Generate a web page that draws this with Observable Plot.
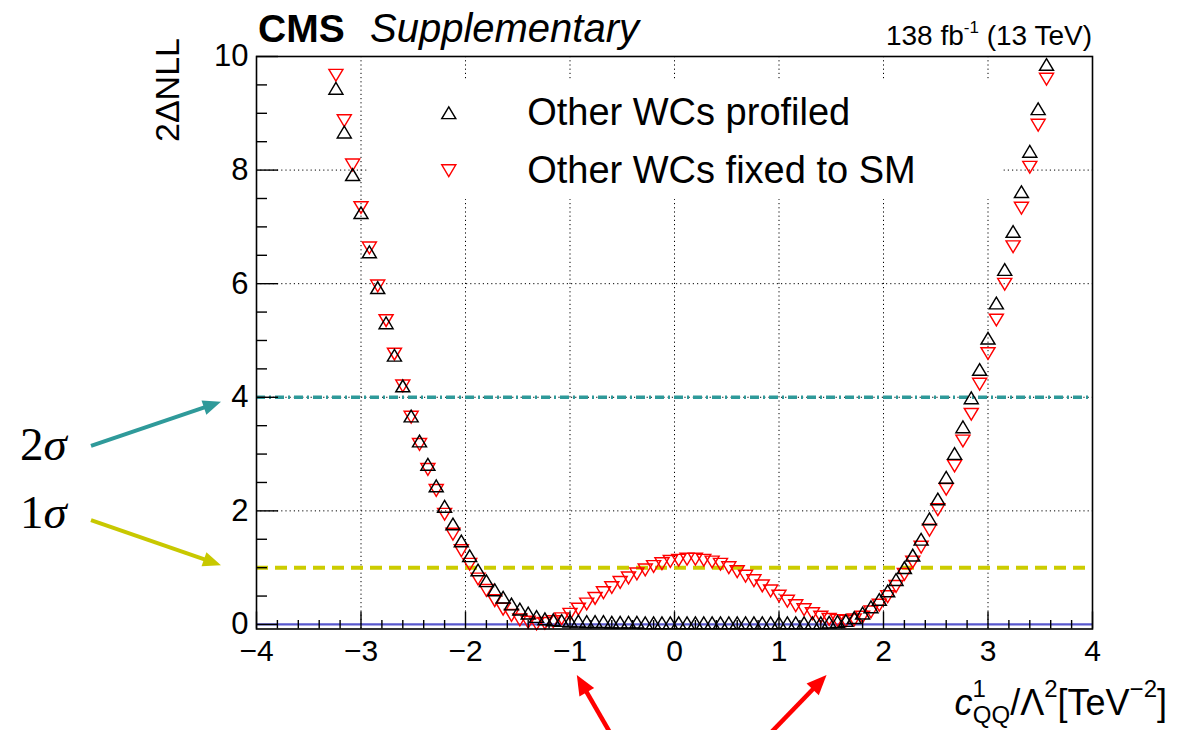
<!DOCTYPE html>
<html><head><meta charset="utf-8">
<script src="https://cdn.jsdelivr.net/npm/d3@7"></script>
<script src="https://cdn.jsdelivr.net/npm/@observablehq/plot@0.6"></script>
<style>
html,body{margin:0;padding:0;background:#fff;overflow:hidden;}
svg{display:block}
</style>
</head><body><div id="chart"></div>
<script>
// ---- data ----
const scanX = [-3.24,-3.16,-3.08,-3.00,-2.92,-2.84,-2.76,-2.68,-2.60,-2.52,-2.44,-2.36,-2.28,-2.20,-2.12,-2.04,-1.96,-1.88,-1.80,-1.72,-1.64,-1.56,-1.48,-1.40,-1.32,-1.24,-1.16,-1.08,-1.00,-0.92,-0.84,-0.76,-0.68,-0.60,-0.52,-0.44,-0.36,-0.28,-0.20,-0.12,-0.04,
  0.04,0.12,0.20,0.28,0.36,0.44,0.52,0.60,0.68,0.76,0.84,0.92,1.00,1.08,1.16,1.24,1.32,1.40,1.48,1.56,1.64,1.72,1.80,1.88,1.96,2.04,2.12,2.20,2.28,2.36,2.44,2.52,2.60,2.68,2.76,2.84,2.92,3.00,3.08,3.16,3.24,3.32,3.40,3.48,3.56];
const profiled = [9.44,8.67,7.92,7.25,6.56,5.93,5.31,4.74,4.20,3.67,3.23,2.82,2.44,2.08,1.77,1.47,1.21,0.96,0.77,0.61,0.48,0.36,0.27,0.20,0.14,0.10,0.08,0.07,0.06,0.06,0.05,0.05,0.05,0.04,0.04,0.04,0.04,0.03,0.03,0.03,0.03,
  0.03,0.03,0.03,0.03,0.03,0.03,0.03,0.03,0.03,0.03,0.03,0.03,0.03,0.03,0.03,0.03,0.03,0.03,0.04,0.05,0.07,0.12,0.20,0.31,0.44,0.59,0.79,1.00,1.22,1.50,1.86,2.21,2.59,3.01,3.48,3.99,4.49,5.04,5.66,6.25,6.92,7.62,8.33,9.08,9.86];
const fixedSM = [9.67,8.87,8.09,7.34,6.63,5.96,5.35,4.76,4.20,3.65,3.17,2.73,2.36,1.94,1.59,1.30,1.06,0.80,0.60,0.42,0.27,0.16,0.08,0.04,0.01,0.02,0.05,0.10,0.18,0.27,0.36,0.46,0.56,0.65,0.74,0.82,0.89,0.96,1.02,1.07,1.11,
  1.13,1.15,1.15,1.13,1.10,1.06,1.00,0.93,0.85,0.77,0.68,0.59,0.50,0.41,0.33,0.26,0.19,0.13,0.09,0.07,0.06,0.08,0.13,0.22,0.34,0.49,0.67,0.88,1.10,1.36,1.66,2.02,2.38,2.79,3.23,3.70,4.23,4.77,5.36,5.99,6.65,7.33,8.05,8.79,9.60];
const seriesNames = ["Other WCs profiled", "Other WCs fixed to SM"];
const xTicks = [-4,-3,-2,-1,0,1,2,3,4];
const yTicks = [0,2,4,6,8,10];
const xGrid = [-3,-2,-1,0,1,2,3];
const yGrid = [2,4,6,8];
const sigmaLevels = [4, 1];          // 2σ, 1σ thresholds of 2ΔNLL
const sigmaLabels = ["2", "1"];
const markedX = [-0.93, 1.46];        // red arrows under the x axis

const xMinor = d3.range(-4, 4.0001, 0.2).map(v => +v.toFixed(2)).filter(v => !xTicks.includes(v));
const yMinor = d3.range(0, 10.0001, 0.5).filter(v => !yTicks.includes(v));

const profRows = scanX.map((x, i) => ({x, y: profiled[i]}));
const fixRows = scanX.map((x, i) => ({x, y: fixedSM[i]}));

// ROOT-like open triangles (bounding-box centred)
const triUp = {draw(ctx, size){const r=Math.sqrt(size/Math.PI), w=1.25*r, h=1.05*r; ctx.moveTo(-w,h); ctx.lineTo(w,h); ctx.lineTo(0,-h); ctx.closePath();}};
const triDown = {draw(ctx, size){const r=Math.sqrt(size/Math.PI), w=1.25*r, h=1.05*r; ctx.moveTo(-w,-h); ctx.lineTo(w,-h); ctx.lineTo(0,h); ctx.closePath();}};

const W = 1177, H = 730, mL = 256, mR = 85, mT = 56, mB = 101.5;
const frameW = W - mL - mR, frameH = H - mT - mB;
const FONT = "'Liberation Sans', Arial, Helvetica, sans-serif";
const minusFmt = d => d < 0 ? "\u2212" + Math.abs(d) : String(d);
const teal = "#2f9a9a", olive = "#cccc00";
const MR = 5.6, MSW = 1.45;

const legendRows = [
  {label: seriesNames[0], y: 9.01, symbol: triUp, color: "black"},
  {label: seriesNames[1], y: 7.99, symbol: triDown, color: "red"}
];

const plot = Plot.plot({
  width: W, height: H,
  marginLeft: mL, marginRight: mR, marginTop: mT, marginBottom: mB,
  style: {fontFamily: FONT, fontSize: "31px", color: "black", background: "white", overflow: "visible"},
  x: {domain: [-4, 4]},
  y: {domain: [-0.08, 10]},
  marks: [
    Plot.ruleX(xGrid, {stroke: "black", strokeWidth: 1, strokeDasharray: "1.2,3"}),
    Plot.ruleY(yGrid, {stroke: "black", strokeWidth: 1, strokeDasharray: "1.2,3"}),
    Plot.rect([0], {x1: -2.94, x2: 3.15, y1: 7.48, y2: 9.58, fill: "white"}),
    Plot.ruleY([0], {stroke: "#4646c8", strokeWidth: 2.2, strokeOpacity: 0.9}),
    Plot.ruleY([sigmaLevels[1]], {stroke: olive, strokeWidth: 4, strokeDasharray: "12,7"}),
    Plot.ruleY([sigmaLevels[0]], {stroke: teal, strokeWidth: 3.4, strokeDasharray: "9,4,2,4"}),
    Plot.dot(fixRows, {x: "x", y: "y", r: MR, symbol: triDown, fill: "none", stroke: "red", strokeWidth: MSW}),
    Plot.dot(profRows, {x: "x", y: "y", r: MR, symbol: triUp, fill: "none", stroke: "black", strokeWidth: MSW}),
    Plot.frame({stroke: "black", strokeWidth: 1.6}),
    Plot.ruleX(xTicks, {insetTop: frameH - 17, stroke: "black", strokeWidth: 1.4}),
    Plot.ruleX(xMinor, {insetTop: frameH - 8.5, stroke: "black", strokeWidth: 1.4}),
    Plot.ruleY(yTicks, {insetRight: frameW - 22, stroke: "black", strokeWidth: 1.4}),
    Plot.ruleY(yMinor, {insetRight: frameW - 11, stroke: "black", strokeWidth: 1.4}),
    Plot.axisX({ticks: xTicks, tickSize: 0, tickPadding: 11, tickFormat: minusFmt, label: null, fontSize: 30}),
    Plot.axisY({ticks: yTicks, tickSize: 0, tickPadding: 8, tickFormat: minusFmt, label: null, fontSize: 31}),
    Plot.dot(legendRows, {x: -2.16, y: "y", r: MR, symbol: d => d.symbol, fill: "none", stroke: "color", strokeWidth: MSW}),
    Plot.text(legendRows, {x: -1.41, y: "y", text: "label", textAnchor: "start", fontSize: 38, fill: "black"})
  ]
});

document.getElementById("chart").appendChild(plot);

const svg = d3.select(plot);
const sx = plot.scale("x"), sy = plot.scale("y");
const X = v => sx.apply(v), Y = v => sy.apply(v);
const g = svg.append("g").attr("font-family", FONT).attr("fill", "black").attr("text-anchor", "start");

// header
g.append("text").attr("x", X(-4) + 2).attr("y", 42).attr("font-size", 39).attr("font-weight", "bold").text("CMS");
g.append("text").attr("x", X(-4) + 114).attr("y", 42).attr("font-size", 40).attr("font-style", "italic").text("Supplementary");
const lumi = g.append("text").attr("x", X(4)).attr("y", 45).attr("font-size", 28).attr("text-anchor", "end");
lumi.append("tspan").text("138 fb");
lumi.append("tspan").attr("font-size", 17).attr("dy", -12).text("-1");
lumi.append("tspan").attr("dy", 12).text(" (13 TeV)");

// y title
g.append("text").attr("transform", `translate(${X(-4) - 77},${Y(10) - 18}) rotate(-90)`)
  .attr("text-anchor", "end").attr("font-size", 34).text("2\u0394NLL");

// x title
const xt = g.append("text").attr("x", 1167).attr("y", 715).attr("font-size", 36).attr("text-anchor", "end");
xt.append("tspan").attr("font-style", "italic").text("c");
xt.append("tspan").attr("font-size", 24).attr("dy", -18).text("1");
xt.append("tspan").attr("font-size", 24).attr("dx", -13).attr("dy", 26).text("QQ");
xt.append("tspan").attr("dy", -8).text("/\u039B");
xt.append("tspan").attr("font-size", 24).attr("dy", -18).text("2");
xt.append("tspan").attr("dy", 18).text("[TeV");
xt.append("tspan").attr("font-size", 24).attr("dy", -18).text("\u22122");
xt.append("tspan").attr("dy", 18).text("]");

// annotation arrows
function arrow(x1, y1, x2, y2, color, w, headL, headW) {
  const dx = x2 - x1, dy = y2 - y1, L = Math.hypot(dx, dy), ux = dx / L, uy = dy / L;
  const bx = x2 - ux * headL, by = y2 - uy * headL;
  g.append("line").attr("x1", x1).attr("y1", y1).attr("x2", bx + ux * 2).attr("y2", by + uy * 2)
    .attr("stroke", color).attr("stroke-width", w);
  g.append("path").attr("fill", color)
    .attr("d", `M${x2},${y2}L${bx - uy * headW / 2},${by + ux * headW / 2}L${bx + uy * headW / 2},${by - ux * headW / 2}Z`);
}
const sigmaColors = [teal, "#c8c800"];
sigmaLevels.forEach((lvl, i) => {
  const tipX = X(-4) - 35;
  const tipY = Y(lvl) + (i === 0 ? 5 : -2);
  const tailY = tipY + (i === 0 ? 44 : -45);
  arrow(91, tailY, tipX, tipY, sigmaColors[i], 4, 18, 15);
  const t = g.append("text").attr("x", 20).attr("y", tailY + (i === 0 ? 14 : 8))
    .attr("font-family", "'Liberation Serif', 'DejaVu Serif', serif").attr("font-size", 47);
  t.append("tspan").text(sigmaLabels[i]);
  t.append("tspan").attr("font-style", "italic").text("\u03C3");
});
markedX.forEach((v, i) => {
  const tipX = X(v), tipY = 675;
  const tailX = tipX + (i === 0 ? 34 : -57);
  arrow(tailX, 734, tipX, tipY, "red", 4.5, 20, 17);
});
</script>
</body></html>
